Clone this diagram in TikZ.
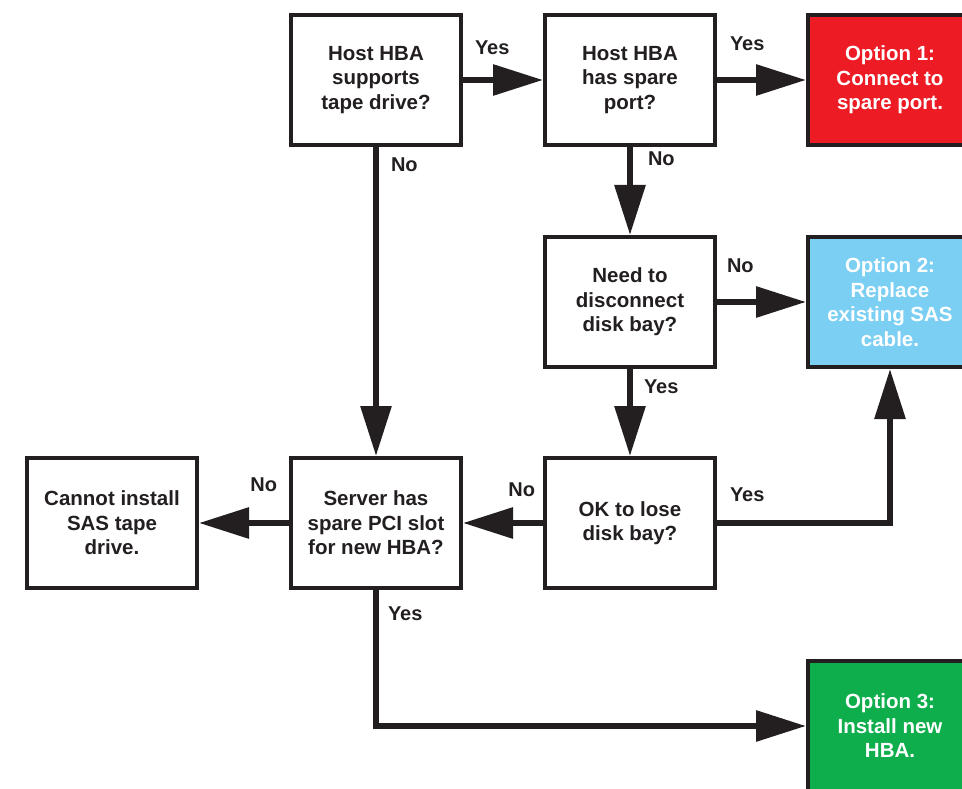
\documentclass[tikz,border=0pt]{standalone}
\usepackage{fontspec}
\setmainfont{Liberation Sans}
\usetikzlibrary{arrows.meta}
\definecolor{ink}{HTML}{231F20}
\definecolor{optred}{HTML}{ED1C24}
\definecolor{optblue}{HTML}{7BCFF3}
\definecolor{optgreen}{HTML}{0DAE4B}
\begin{document}
\begin{tikzpicture}[x=1pt,y=-1pt,
  box/.style={draw=ink, line width=4pt, fill=white, minimum width=170pt, minimum height=130pt,
    align=center, text=ink, font=\fontsize{20.5}{24.5}\selectfont\bfseries},
  opt/.style={box, minimum width=164pt, text=white},
  arr/.style={draw=ink, line width=6pt, -{Triangle[length=50pt,width=30pt]}},
  lbl/.style={text=ink, inner sep=0pt, font=\fontsize{20}{24}\selectfont\bfseries}]
\useasboundingbox (0,0) rectangle (962,789);
\clip (0,0) rectangle (962,789);
\node[box] (hba) at (376,80) {Host HBA\\supports\\tape drive?};
\node[box] (spare) at (630,80) {Host HBA\\has spare\\port?};
\node[opt, fill=optred] (opt1) at (890,80) {Option 1:\\Connect to\\spare port.};
\node[box] (need) at (630,302) {Need to\\disconnect\\disk bay?};
\node[opt, fill=optblue] (opt2) at (890,302) {Option 2:\\Replace\\existing SAS\\cable.};
\node[box] (ok) at (630,523) {OK to lose\\disk bay?};
\node[box] (pci) at (376,523) {Server has\\spare PCI slot\\for new HBA?};
\node[box] (cant) at (112,523) {Cannot install\\SAS tape\\drive.};
\node[opt, fill=optgreen] (opt3) at (890,726) {Option 3:\\Install new\\HBA.};
\draw[arr] (hba.east) -- (spare.west) node[lbl, pos=0, anchor=base west, xshift=9pt, yshift=25pt] {Yes};
\draw[arr] (spare.east) -- (opt1.west) node[lbl, pos=0, anchor=base west, xshift=10pt, yshift=29pt] {Yes};
\draw[arr] (hba.south) -- (pci.north) node[lbl, pos=0, anchor=base west, xshift=12pt, yshift=-25pt] {No};
\draw[arr] (spare.south) -- (need.north) node[lbl, pos=0, anchor=base west, xshift=15pt, yshift=-19pt] {No};
\draw[arr] (need.east) -- (opt2.west) node[lbl, pos=0, anchor=base west, xshift=7pt, yshift=30pt] {No};
\draw[arr] (need.south) -- (ok.north) node[lbl, pos=0, anchor=base west, xshift=11pt, yshift=-24pt] {Yes};
\draw[arr] (ok.east) -| (opt2.south) node[lbl, pos=0, anchor=base west, xshift=10pt, yshift=22pt] {Yes};
\draw[arr] (ok.west) -- (pci.east) node[lbl, pos=0, anchor=base east, xshift=-5pt, yshift=27pt] {No};
\draw[arr] (pci.west) -- (cant.east) node[lbl, pos=0, anchor=base east, xshift=-9pt, yshift=32pt] {No};
\draw[arr] (pci.south) |- (opt3.west) node[lbl, pos=0, anchor=base west, xshift=9pt, yshift=-30pt] {Yes};
\end{tikzpicture}
\end{document}
